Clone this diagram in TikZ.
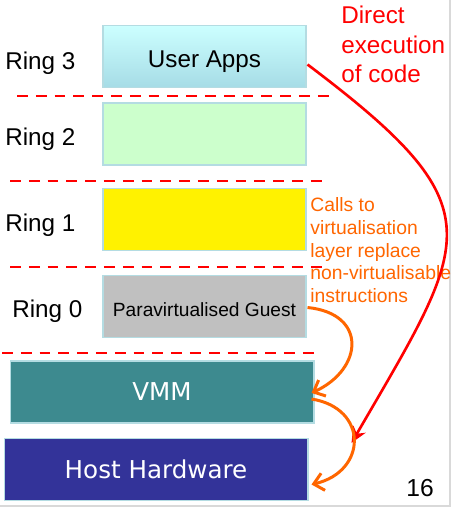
\documentclass[tikz,border=0pt]{standalone}
\usepackage{fontspec}
\setmainfont{Liberation Sans}
\newfontfamily\wideface{DejaVu Sans}
\usepackage{tikz}
\usetikzlibrary{arrows.meta,calc}
\definecolor{edge}{HTML}{B4DCE2}
\definecolor{apptop}{HTML}{CCFFFF}
\definecolor{appbot}{HTML}{A6DCE6}
\definecolor{ringtwo}{HTML}{CCFFCC}
\definecolor{guest}{HTML}{C0C0C0}
\definecolor{vmmteal}{HTML}{3D8A8F}
\definecolor{hwblue}{HTML}{333399}
\definecolor{red3}{HTML}{FF0000}
\definecolor{orange3}{HTML}{FF6600}

\begin{document}
\begin{tikzpicture}[
      x=0.02cm, y=-0.02cm,
      every node/.style={font=\fontsize{13.8}{16}\selectfont},
      layer/.style={draw=edge,line width=0.6pt,inner sep=0pt,minimum width=4.06cm,minimum height=1.24cm},
      wide/.style={layer,minimum width=6.08cm,text=white,font=\wideface\fontsize{14}{16}\selectfont},
      ring/.style={anchor=west,inner sep=0pt},
      border/.style={red3,line width=1.7pt,dash pattern=on 6.2pt off 4.5pt},
      call/.style={orange3,line width=1.7pt,-{Straight Barb[length=5.5pt,width=10pt]}},
      direct/.style={red3,line width=1.5pt,-{Stealth[length=9pt,width=8pt]}}
  ]
    \useasboundingbox (0,0) rectangle (456,509);
    \fill[white] (0,0) rectangle (456,509);
    \draw[gray!30,line width=1.1pt] (450,0) -- (450,506) -- (0,506);

    \node[layer,top color=apptop,bottom color=appbot,text height=16pt,text depth=3pt] (ua) at (204.5,56.5) {User Apps};
    \node[layer,fill=ringtwo] (r2) at (204.5,134) {};
    \node[layer,fill=yellow] (r1) at (204.5,219.5) {};
    \node[layer,fill=guest,font=\fontsize{10.9}{12}\selectfont,text height=13.8pt,text depth=2pt] (pg) at (204.5,306.5) {Paravirtualised Guest};
    \node[wide,fill=vmmteal] (vmm) at (162,392) {VMM};
    \node[wide,fill=hwblue] (hw) at (156,469.5) {Host Hardware};

    \node[ring] (l3) at (5,63) {Ring 3};
    \node[ring] (l2) at (5,139) {Ring 2};
    \node[ring] (l1) at (5,225) {Ring 1};
    \node[ring] (l0) at (12,311) {Ring 0};

    \foreach \xa/\xb/\yy in {17/330/96, 10/322/181, 10/322/267, 2/314/353}
      \draw[border] (\xa,\yy) -- (\xb,\yy);

    \node[anchor=north west,align=left,inner sep=0pt,text=red3,
          font=\fontsize{13.8}{16.7}\selectfont] (dx) at (341,6)
      {Direct\\execution\\of code};
    \node[anchor=north west,align=left,inner sep=0pt,text=orange3,
          font=\fontsize{11}{13}\selectfont] (cl) at (310,197)
      {Calls to\\virtualisation\\layer replace\\non-virtualisable\\instructions};
    \node[font=\fontsize{14}{16}\selectfont] (pn) at (420,488) {16};

    \draw[direct] ($(ua.east)+(1,8)$) .. controls (499,209) and (471,237) .. ($(hw.north east)+(43,5)$);
    \draw[call] ($(pg.east)+(1,1)$) .. controls +(60,6) and +(52,-24) .. ($(vmm.east)+(-3,1)$);
    \draw[call] ($(vmm.east)+(-3,7)$) .. controls +(57,9) and +(56,-13) .. ($(hw.east)+(3,15)$);
  \end{tikzpicture}
\end{document}
